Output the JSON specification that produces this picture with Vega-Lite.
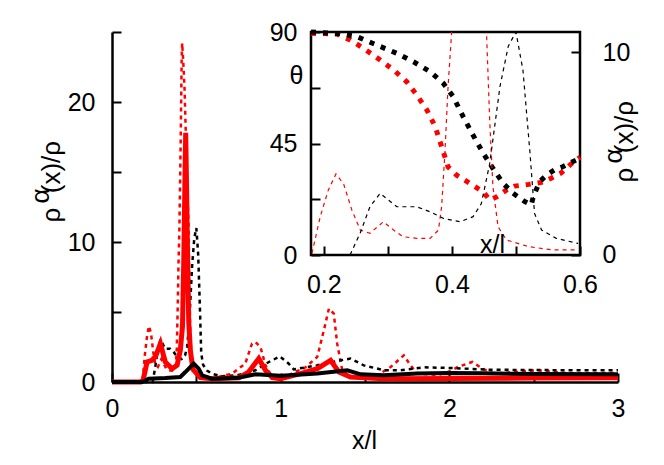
{
  "$schema": "https://vega.github.io/schema/vega-lite/v6.json",
  "width": 506,
  "height": 350,
  "autosize": {"type": "none"},
  "padding": {"left": 112, "top": 32, "right": 46, "bottom": 83},
  "background": "white",
  "config": {
    "view": {"stroke": null},
    "font": "Liberation Sans",
    "axis": {
      "grid": false,
      "domainColor": "black",
      "tickColor": "black",
      "labelColor": "black",
      "titleColor": "black",
      "labelFont": "Liberation Sans",
      "titleFont": "Liberation Sans",
      "labelFontSize": 25,
      "titleFontSize": 25,
      "titleFontWeight": "normal",
      "tickWidth": 2,
      "domainWidth": 2.5,
      "tickSize": -9,
      "labelOverlap": false,
      "labelFlush": false,
      "labelBound": false
    }
  },
  "datasets": {
    "rho": [
      {"s":"rs","x":0,"y":0},{"s":"rs","x":0.17,"y":0},{"s":"rs","x":0.185,"y":0.15},{"s":"rs","x":0.208,"y":1.43},{"s":"rs","x":0.237,"y":1.55},{"s":"rs","x":0.257,"y":1.8},{"s":"rs","x":0.287,"y":2.74},{"s":"rs","x":0.316,"y":1.43},{"s":"rs","x":0.356,"y":0.95},{"s":"rs","x":0.386,"y":1.19},{"s":"rs","x":0.405,"y":2.26},{"s":"rs","x":0.418,"y":4},{"s":"rs","x":0.426,"y":9},{"s":"rs","x":0.432,"y":14},{"s":"rs","x":0.437,"y":17.8},{"s":"rs","x":0.442,"y":14},{"s":"rs","x":0.448,"y":9},{"s":"rs","x":0.455,"y":4.3},{"s":"rs","x":0.465,"y":2.2},{"s":"rs","x":0.48,"y":0.9},{"s":"rs","x":0.524,"y":0.31},{"s":"rs","x":0.593,"y":0.24},{"s":"rs","x":0.752,"y":0.31},{"s":"rs","x":0.81,"y":0.71},{"s":"rs","x":0.87,"y":1.67},{"s":"rs","x":0.91,"y":0.84},{"s":"rs","x":0.95,"y":0.31},{"s":"rs","x":1.0,"y":0.24},{"s":"rs","x":1.118,"y":0.6},{"s":"rs","x":1.217,"y":0.95},{"s":"rs","x":1.296,"y":1.55},{"s":"rs","x":1.345,"y":0.71},{"s":"rs","x":1.414,"y":0.36},{"s":"rs","x":1.61,"y":0.24},{"s":"rs","x":2.0,"y":0.25},{"s":"rs","x":2.5,"y":0.28},{"s":"rs","x":3.0,"y":0.3},
      {"s":"bs","x":0,"y":0},{"s":"bs","x":0.18,"y":0},{"s":"bs","x":0.217,"y":0.24},{"s":"bs","x":0.316,"y":0.29},{"s":"bs","x":0.405,"y":0.36},{"s":"bs","x":0.435,"y":0.71},{"s":"bs","x":0.484,"y":1.31},{"s":"bs","x":0.514,"y":0.95},{"s":"bs","x":0.534,"y":0.48},{"s":"bs","x":0.593,"y":0.24},{"s":"bs","x":0.75,"y":0.31},{"s":"bs","x":0.85,"y":0.55},{"s":"bs","x":1.0,"y":0.45},{"s":"bs","x":1.147,"y":0.55},{"s":"bs","x":1.217,"y":0.6},{"s":"bs","x":1.395,"y":0.84},{"s":"bs","x":1.474,"y":0.55},{"s":"bs","x":1.61,"y":0.48},{"s":"bs","x":1.81,"y":0.6},{"s":"bs","x":2.0,"y":0.64},{"s":"bs","x":2.2,"y":0.62},{"s":"bs","x":2.5,"y":0.57},{"s":"bs","x":3.0,"y":0.55},
      {"s":"bd","x":0,"y":0},{"s":"bd","x":0.241,"y":0},{"s":"bd","x":0.257,"y":1.1},{"s":"bd","x":0.272,"y":2.38},{"s":"bd","x":0.288,"y":3.04},{"s":"bd","x":0.314,"y":2.38},{"s":"bd","x":0.345,"y":2.38},{"s":"bd","x":0.366,"y":2.13},{"s":"bd","x":0.387,"y":1.8},{"s":"bd","x":0.413,"y":1.64},{"s":"bd","x":0.433,"y":1.89},{"s":"bd","x":0.446,"y":2.54},{"s":"bd","x":0.459,"y":4.5},{"s":"bd","x":0.475,"y":8.3},{"s":"bd","x":0.488,"y":10.3},{"s":"bd","x":0.5,"y":11.0},{"s":"bd","x":0.511,"y":9.1},{"s":"bd","x":0.522,"y":5.0},{"s":"bd","x":0.529,"y":2.05},{"s":"bd","x":0.54,"y":1.23},{"s":"bd","x":0.563,"y":0.82},{"s":"bd","x":0.597,"y":0.57},{"s":"bd","x":0.653,"y":0.41},{"s":"bd","x":0.75,"y":0.5},{"s":"bd","x":0.85,"y":0.84},{"s":"bd","x":0.93,"y":1.43},{"s":"bd","x":0.995,"y":1.82},{"s":"bd","x":1.048,"y":1.31},{"s":"bd","x":1.078,"y":0.9},{"s":"bd","x":1.217,"y":1.19},{"s":"bd","x":1.355,"y":1.55},{"s":"bd","x":1.414,"y":1.67},{"s":"bd","x":1.493,"y":1.19},{"s":"bd","x":1.612,"y":0.84},{"s":"bd","x":1.711,"y":0.84},{"s":"bd","x":1.849,"y":1.05},{"s":"bd","x":2.008,"y":1.0},{"s":"bd","x":2.23,"y":0.88},{"s":"bd","x":2.5,"y":0.85},{"s":"bd","x":3.0,"y":0.84},
      {"s":"rd","x":0,"y":0},{"s":"rd","x":0.17,"y":0},{"s":"rd","x":0.1815,"y":0.08},{"s":"rd","x":0.1945,"y":1.9},{"s":"rd","x":0.207,"y":3.2},{"s":"rd","x":0.219,"y":4.0},{"s":"rd","x":0.231,"y":3.5},{"s":"rd","x":0.244,"y":2.2},{"s":"rd","x":0.257,"y":1.23},{"s":"rd","x":0.272,"y":1.07},{"s":"rd","x":0.293,"y":1.64},{"s":"rd","x":0.309,"y":1.23},{"s":"rd","x":0.324,"y":0.9},{"s":"rd","x":0.345,"y":0.82},{"s":"rd","x":0.366,"y":0.82},{"s":"rd","x":0.379,"y":1.23},{"s":"rd","x":0.384,"y":2.4},{"s":"rd","x":0.389,"y":5.0},{"s":"rd","x":0.394,"y":8.3},{"s":"rd","x":0.3996,"y":11},{"s":"rd","x":0.407,"y":17},{"s":"rd","x":0.413,"y":23},{"s":"rd","x":0.416,"y":24.2},{"s":"rd","x":0.422,"y":23},{"s":"rd","x":0.43,"y":21},{"s":"rd","x":0.437,"y":18},{"s":"rd","x":0.445,"y":14.5},{"s":"rd","x":0.454,"y":11},{"s":"rd","x":0.459,"y":6.65},{"s":"rd","x":0.464,"y":3.4},{"s":"rd","x":0.472,"y":1.4},{"s":"rd","x":0.485,"y":0.74},{"s":"rd","x":0.52,"y":0.41},{"s":"rd","x":0.558,"y":0.25},{"s":"rd","x":0.596,"y":0.25},{"s":"rd","x":0.712,"y":0.6},{"s":"rd","x":0.79,"y":1.31},{"s":"rd","x":0.83,"y":2.74},{"s":"rd","x":0.85,"y":2.86},{"s":"rd","x":0.88,"y":2.5},{"s":"rd","x":0.91,"y":1.19},{"s":"rd","x":0.95,"y":0.36},{"s":"rd","x":1.03,"y":0.36},{"s":"rd","x":1.09,"y":0.75},{"s":"rd","x":1.137,"y":0.95},{"s":"rd","x":1.217,"y":1.79},{"s":"rd","x":1.256,"y":3.69},{"s":"rd","x":1.286,"y":5.24},{"s":"rd","x":1.315,"y":4.88},{"s":"rd","x":1.335,"y":2.74},{"s":"rd","x":1.365,"y":0.84},{"s":"rd","x":1.414,"y":0.36},{"s":"rd","x":1.573,"y":0.48},{"s":"rd","x":1.652,"y":1.07},{"s":"rd","x":1.73,"y":1.9},{"s":"rd","x":1.77,"y":1.19},{"s":"rd","x":1.81,"y":0.6},{"s":"rd","x":1.93,"y":0.5},{"s":"rd","x":1.99,"y":0.7},{"s":"rd","x":2.05,"y":1.07},{"s":"rd","x":2.136,"y":1.43},{"s":"rd","x":2.196,"y":0.95},{"s":"rd","x":2.265,"y":0.6},{"s":"rd","x":2.52,"y":0.84},{"s":"rd","x":2.72,"y":0.6},{"s":"rd","x":3.0,"y":0.65}
    ],
    "theta": [
      {"s":"tr","x":0.18,"t":89.5},{"s":"tr","x":0.2205,"t":89.2},{"s":"tr","x":0.241,"t":86.8},{"s":"tr","x":0.262,"t":83.4},{"s":"tr","x":0.288,"t":78.7},{"s":"tr","x":0.309,"t":74.7},{"s":"tr","x":0.3295,"t":69.9},{"s":"tr","x":0.345,"t":64.6},{"s":"tr","x":0.361,"t":58.5},{"s":"tr","x":0.374,"t":51.8},{"s":"tr","x":0.384,"t":43.7},{"s":"tr","x":0.394,"t":35.6},{"s":"tr","x":0.407,"t":32.3},{"s":"tr","x":0.428,"t":28.9},{"s":"tr","x":0.449,"t":25.5},{"s":"tr","x":0.459,"t":22.2},{"s":"tr","x":0.47,"t":23.5},{"s":"tr","x":0.485,"t":26.2},{"s":"tr","x":0.498,"t":27.8},{"s":"tr","x":0.52,"t":28.5},{"s":"tr","x":0.54,"t":29.3},{"s":"tr","x":0.555,"t":31},{"s":"tr","x":0.57,"t":33},{"s":"tr","x":0.585,"t":36.5},{"s":"tr","x":0.6,"t":39.5},
      {"s":"tb","x":0.18,"t":90},{"s":"tb","x":0.228,"t":89.2},{"s":"tb","x":0.252,"t":88.1},{"s":"tb","x":0.283,"t":84.7},{"s":"tb","x":0.314,"t":81.4},{"s":"tb","x":0.34,"t":78.0},{"s":"tb","x":0.366,"t":74.0},{"s":"tb","x":0.3866,"t":69.3},{"s":"tb","x":0.402,"t":63.9},{"s":"tb","x":0.4177,"t":55.8},{"s":"tb","x":0.433,"t":48.4},{"s":"tb","x":0.449,"t":41.0},{"s":"tb","x":0.464,"t":35.0},{"s":"tb","x":0.48,"t":28.9},{"s":"tb","x":0.4956,"t":24.9},{"s":"tb","x":0.514,"t":21.5},{"s":"tb","x":0.524,"t":20.2},{"s":"tb","x":0.527,"t":23.5},{"s":"tb","x":0.537,"t":29.6},{"s":"tb","x":0.548,"t":32.3},{"s":"tb","x":0.56,"t":34.3},{"s":"tb","x":0.573,"t":35.6},{"s":"tb","x":0.586,"t":37.4},{"s":"tb","x":0.6,"t":39}
    ],
    "box": [{"x":0.18,"x2":0.6,"t":0,"t2":90}]
  },
  "resolve": {"scale": {"x": "independent", "y": "independent"}},
  "layer": [
    {
      "data": {"name": "rho"},
      "encoding": {
        "x": {"field": "x", "type": "quantitative", "scale": {"domain": [0, 3], "nice": false, "zero": false},
          "axis": {"orient": "bottom", "values": [0,0.5,1,1.5,2,2.5,3], "labelExpr": "datum.value % 1 == 0 ? format(datum.value, 'd') : ''", "labelPadding": 23, "title": "x/l", "titleX": 252, "titleY": 58, "titleBaseline": "middle", "titleAlign": "center"}},
        "y": {"field": "y", "type": "quantitative", "scale": {"domain": [0, 25], "nice": false},
          "axis": {"orient": "left", "values": [0,5,10,15,20,25], "labelExpr": "datum.value % 10 == 0 ? format(datum.value, 'd') : ''", "labelPadding": 26, "title": ["\u2800α", "ρ\u00a0\u00a0(x)/ρ"], "titleFontSize": 26, "titleLineHeight": 11, "titleAngle": 270, "titleX": -72, "titleY": 190, "titleBaseline": "middle", "titleAlign": "left"}}
      },
      "layer": [
        {"transform": [{"filter": "datum.s === 'rd'"}], "mark": {"type": "line", "color": "#ff0000", "strokeWidth": 2.5, "strokeDash": [4, 4]}},
        {"transform": [{"filter": "datum.s === 'bd'"}], "mark": {"type": "line", "color": "#000000", "strokeWidth": 2.5, "strokeDash": [4, 4]}},
        {"transform": [{"filter": "datum.s === 'rs'"}], "mark": {"type": "line", "color": "#ff0000", "strokeWidth": 5}},
        {"transform": [{"filter": "datum.s === 'bs'"}], "mark": {"type": "line", "color": "#000000", "strokeWidth": 4}}
      ]
    },
    {
      "encoding": {
        "x": {"field": "x", "type": "quantitative", "scale": {"domain": [-0.130706, 0.659331], "nice": false, "zero": false},
          "axis": {"orient": "bottom", "offset": -127, "zindex": 2, "domain": false, "values": [0.2,0.3,0.4,0.5,0.6], "labelExpr": "round(datum.value*10) % 2 == 0 ? format(datum.value, '.1f') : ''", "labelPadding": 26, "title": "x/l", "titleX": 380, "titleY": -3, "titleBaseline": "alphabetic", "titleAlign": "center"}},
        "y": {"field": "t", "type": "quantitative", "scale": {"domain": [-51.2556, 90], "nice": false, "zero": false},
          "axis": {"orient": "left", "offset": -199, "zindex": 2, "domain": false, "values": [0,22.5,45,67.5,90], "labelExpr": "datum.value % 45 == 0 ? format(datum.value, 'd') : ''", "labelPadding": 23, "title": "θ", "titleAngle": 0, "titleX": -15, "titleY": 43, "titleBaseline": "middle", "titleAlign": "center"}}
      },
      "layer": [
        {"data": {"name": "box"}, "mark": {"type": "rect", "fill": "white", "stroke": "black", "strokeWidth": 2.5}, "encoding": {"x2": {"field": "x2"}, "y2": {"field": "t2"}}},
        {"data": {"name": "theta"}, "transform": [{"filter": "datum.s === 'tr'"}], "mark": {"type": "line", "color": "#ff0000", "strokeWidth": 5, "strokeDash": [5, 7]}},
        {"data": {"name": "theta"}, "transform": [{"filter": "datum.s === 'tb'"}], "mark": {"type": "line", "color": "#000000", "strokeWidth": 5, "strokeDash": [5, 7]}}
      ]
    },
    {
      "data": {"name": "rho"},
      "transform": [{"filter": "datum.x >= 0.18 && datum.x <= 0.6"}],
      "encoding": {
        "x": {"field": "x", "type": "quantitative", "scale": {"domain": [-0.130706, 0.659331], "nice": false, "zero": false}, "axis": null},
        "y": {"field": "y", "type": "quantitative", "scale": {"domain": [-6.265, 11], "nice": false, "zero": false},
          "axis": {"orient": "right", "offset": -38, "zindex": 2, "domain": false, "values": [0, 10], "format": "d", "labelPadding": 31, "labelAlign": "left", "title": ["\u2800α", "ρ\u00a0\u00a0(x)/ρ"], "titleFontSize": 26, "titleLineHeight": 11, "titleAngle": 270, "titleX": 33, "titleY": 150, "titleBaseline": "middle", "titleAlign": "left"}}
      },
      "layer": [
        {"transform": [{"filter": "datum.s === 'rd'"}], "mark": {"type": "line", "color": "#ff0000", "strokeWidth": 1.2, "strokeDash": [4, 4], "clip": true}},
        {"transform": [{"filter": "datum.s === 'bd'"}], "mark": {"type": "line", "color": "#000000", "strokeWidth": 1.2, "strokeDash": [4, 4], "clip": true}}
      ]
    }
  ]
}
